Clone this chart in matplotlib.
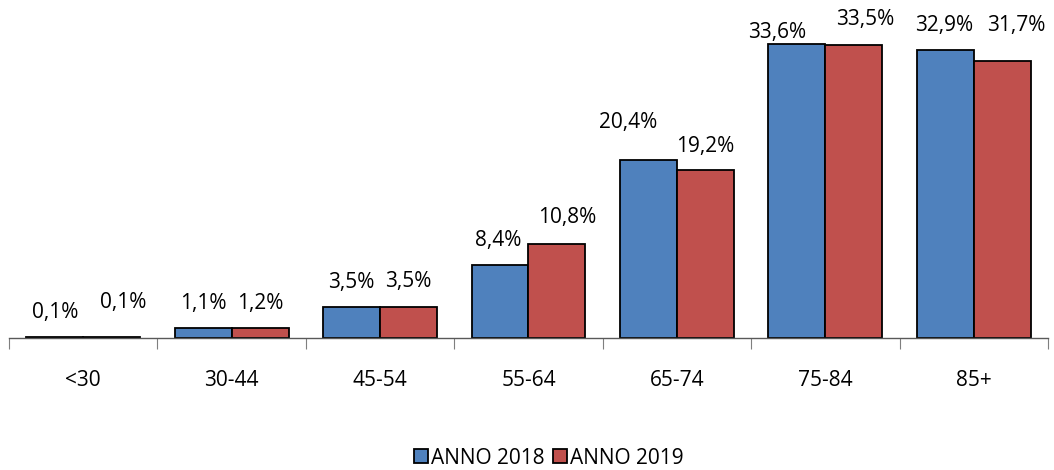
import matplotlib
matplotlib.use("Agg")
import matplotlib.pyplot as plt
import numpy as np

categories = ["<30", "30-44", "45-54", "55-64", "65-74", "75-84", "85+"]
values_2018 = [0.1, 1.1, 3.5, 8.4, 20.4, 33.6, 32.9]
values_2019 = [0.1, 1.2, 3.5, 10.8, 19.2, 33.5, 31.7]
series_names = ["ANNO 2018", "ANNO 2019"]

# label offsets (points) from the bar top centre, as placed in the reference
lab18_dx = [0, 0, 0, -1.5, -14.5, -14.5, -0.5]
lab18_dy = [18, 18, 18, 17.6, 26.3, 8.6, 18]
lab19_dx = [8, 0, 0, 7, 0, 8.5, 10]
lab19_dy = [25, 17.6, 18.3, 18.4, 16.6, 18, 25.6]

plt.rcParams['font.family'] = ['Open Sans', 'DejaVu Sans']

fig = plt.figure(figsize=(10.54, 4.70), dpi=100)
ax = fig.add_axes([9/1054, 1-338/470, (1048-9)/1054, 315/470])

x = np.arange(len(categories))
w = 0.384
c18 = "#4F81BD"
c19 = "#C0504D"
b1 = ax.bar(x - w/2, values_2018, w, color=c18, edgecolor="black", linewidth=1.3, label=series_names[0])
b2 = ax.bar(x + w/2, values_2019, w, color=c19, edgecolor="black", linewidth=1.3, label=series_names[1])

fs = 15
for i in range(len(categories)):
    ax.annotate(f"{values_2018[i]:.1f}%".replace(".", ","), (x[i] - w/2, values_2018[i]),
                xytext=(lab18_dx[i], lab18_dy[i]), textcoords="offset points",
                ha="center", va="center", fontsize=fs, annotation_clip=False)
    ax.annotate(f"{values_2019[i]:.1f}%".replace(".", ","), (x[i] + w/2, values_2019[i]),
                xytext=(lab19_dx[i], lab19_dy[i]), textcoords="offset points",
                ha="center", va="center", fontsize=fs, annotation_clip=False)

ax.set_xlim(-0.5, len(categories) - 0.5)
ax.set_ylim(0, 36)
for s in ["top", "right", "left"]:
    ax.spines[s].set_visible(False)
ax.spines["bottom"].set_color("#595959")
ax.spines["bottom"].set_linewidth(1.0)
ax.set_yticks([])
ax.set_xticks(np.arange(len(categories) + 1) - 0.5, minor=False)
ax.set_xticklabels([])
ax.tick_params(axis="x", which="major", length=8, color="#7f7f7f", direction="out")
ax.set_xticks(x, minor=True)
ax.set_xticklabels(categories, minor=True, fontsize=fs)
ax.tick_params(axis="x", which="minor", length=0, pad=23)

leg = fig.legend(handles=[b1, b2], labels=series_names, loc="center", bbox_to_anchor=(549/1054, 1-458/470),
                 ncol=2, frameon=False, fontsize=fs, handlelength=0.68, handleheight=0.68,
                 handletextpad=0.15, columnspacing=0.4)

fig.savefig("out.png", dpi=100)
